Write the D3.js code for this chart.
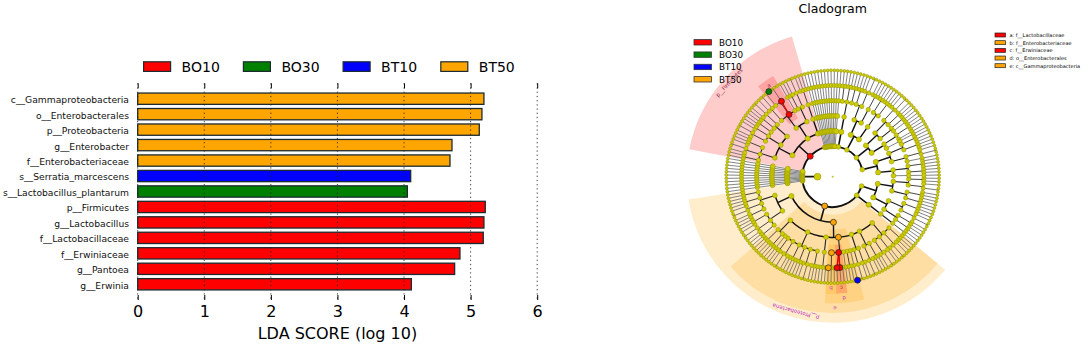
<!DOCTYPE html>
<html>
<head>
<meta charset="utf-8">
<script src="https://cdn.jsdelivr.net/npm/d3@7"></script>
<style>
  body { margin: 0; background: #fff; }
  svg { display: block; font-family: "DejaVu Sans", sans-serif; }
</style>
</head>
<body>
<svg width="1084" height="346"></svg>
<script>
// bar chart data
const groups = ["BO10", "BO30", "BT10", "BT50"];
const groupColors = ["#ff0000", "#008000", "#0000ff", "#ffa500"];
const taxa = [
  "c__Gammaproteobacteria", "o__Enterobacterales", "p__Proteobacteria", "g__Enterobacter",
  "f__Enterobacteriaceae", "s__Serratia_marcescens", "s__Lactobacillus_plantarum",
  "p__Firmicutes", "g__Lactobacillus", "f__Lactobacillaceae", "f__Erwiniaceae",
  "g__Pantoea", "g__Erwinia"
];
const taxaGroups = ["BT50", "BT50", "BT50", "BT50", "BT50", "BT10", "BO30", "BO10", "BO10", "BO10", "BO10", "BO10", "BO10"];
const ldaScores = [5.2, 5.17, 5.13, 4.72, 4.69, 4.1, 4.05, 5.22, 5.2, 5.19, 4.84, 4.76, 4.11];
const scoreTicks = [0, 1, 2, 3, 4, 5, 6];

// cladogram tree: phylum > class > order > family > genus, number = species in the genus
const phyla = [
  [[[[1, 1], [1, 2]], [[1, 1, 1], [1, 1]]], [[[1, 1, 1], [1, 2]], [[1, 1], [1, 1]]]],
  [[[[1, 1]]]],
  [ // Proteobacteria
    [
      [[1, 1, 1], [1, 2], [1, 1], [2, 1]],
      [[1, 1], [1, 2]],
      [[1, 1], [2]],
      [[1], [1, 1], [1], [1, 1, 1], [1, 1, 1]], // Enterobacterales
      [[1, 1, 1]],
      [[1, 1, 1], [2, 1], [1, 1], [1, 1, 1], [1, 2], [1, 1], [1]],
      [[1, 1], [1, 1, 1]]
    ],
    [[[1, 1], [1, 2], [1, 1, 1]], [[1, 1], [2, 1], [1, 1], [1, 1, 1]]]
  ],
  [[[[1]]]], [[[[1]]]], [[[[1]]]], [[[[1]]]], [[[[1]]]], [[[[1]]]],
  [[[[1]]]], [[[[1]]]], [[[[1]]]], [[[[1]]]], [[[[1]]]],
  [ // Firmicutes
    [[[1, 1], [1, 2], [1, 1, 1]], [[1, 2], [1, 1], [1, 1]], [[1, 1], [2]]],
    [[[1, 2], [1, 4], [1]], [[1, 1], [2]]],
    [[[1, 1, 1]]]
  ],
  [[[[1]]]], [[[[1]]]], [[[[1]]]], [[[[1]]]], [[[[1]]]], [[[[1]]]],
  [[[[1]]]], [[[[1]]]], [[[[1]]]], [[[[1]]]], [[[[1]]]], [[[[1]]]],
  [[[[1, 1], [1, 1], [1, 1]]]],
  [[[[1, 1], [1, 2]], [[1, 1, 1]]], [[[1, 1], [1, 1, 1]]]],
  [[[[1, 2], [1, 1]], [[1, 1], [1]]], [[[1, 1, 1], [1]], [[1]]]],
  [[[[1, 1], [1, 1, 1]], [[1, 2], [1]]], [[[1, 1, 1], [1, 1]], [[1]]]]
];

// clades coloured in the cladogram, found through their index path in phyla
const cladeNames = [
  "p__Proteobacteria", "c__Gammaproteobacteria", "o__Enterobacterales", "f__Enterobacteriaceae",
  "g__Enterobacter", "f__Erwiniaceae", "g__Pantoea", "g__Erwinia", "s__Serratia_marcescens",
  "p__Firmicutes", "f__Lactobacillaceae", "g__Lactobacillus", "s__Lactobacillus_plantarum"
];
const cladePaths = [
  [2], [2, 0], [2, 0, 3], [2, 0, 3, 4],
  [2, 0, 3, 4, 2], [2, 0, 3, 3], [2, 0, 3, 3, 1], [2, 0, 3, 3, 2], [2, 0, 3, 0, 0, 0],
  [14], [14, 1, 0, 1], [14, 1, 0, 1, 1], [14, 1, 0, 1, 1, 0]
];
const cladeGroups = ["BT50", "BT50", "BT50", "BT50", "BT50", "BO10", "BO10", "BO10", "BT10", "BO10", "BO10", "BO10", "BO30"];

// sectors with their label on the cladogram
const sectorClades = ["p__Proteobacteria", "c__Gammaproteobacteria", "o__Enterobacterales", "f__Enterobacteriaceae", "f__Erwiniaceae", "p__Firmicutes", "f__Lactobacillaceae"];
const sectorLabels = ["p__Proteobacteria", "e", "d", "b", "c", "p__Firmicutes", "a"];

const keyLabels = ["a: f__Lactobacillaceae", "b: f__Enterobacteriaceae", "c: f__Erwiniaceae", "d: o__Enterobacterales", "e: c__Gammaproteobacteria"];
const keyGroups = ["BO10", "BT50", "BO10", "BT50", "BT50"];

const svg = d3.select("svg");
const color = d3.scaleOrdinal(groups, groupColors);

// ---- bar chart ----
const x = d3.scaleLinear().domain([0, 6]).range([137.7, 537.2]);
const y = d3.scaleBand().domain(taxa).range([90.97, 292]).paddingInner(0.27).paddingOuter(0.135);

const bars = svg.append("g");
bars.selectAll("rect")
  .data(taxa)
  .enter()
  .append("rect")
  .attr("x", x(0))
  .attr("y", (d) => y(d))
  .attr("width", (d, i) => x(ldaScores[i]) - x(0))
  .attr("height", y.bandwidth())
  .attr("fill", (d, i) => color(taxaGroups[i]))
  .attr("stroke", "#1c2b30")
  .attr("stroke-width", 1.3);

// dotted grid over the bars
svg.append("g")
  .selectAll("line")
  .data(scoreTicks)
  .enter()
  .append("line")
  .attr("x1", (d) => x(d))
  .attr("x2", (d) => x(d))
  .attr("y1", 83.3)
  .attr("y2", 300)
  .attr("stroke", "#222")
  .attr("stroke-width", 0.9)
  .attr("stroke-dasharray", "1.2,3");

const xAxis = svg.append("g")
  .attr("transform", "translate(0,300)")
  .call(d3.axisBottom(x).tickValues(scoreTicks).tickFormat(d3.format("d")).tickSizeInner(-5).tickSizeOuter(0).tickPadding(6));
xAxis.select(".domain").remove();
xAxis.selectAll("text").attr("font-size", 16).attr("font-family", "DejaVu Sans").attr("fill", "#000");

const xAxisTop = svg.append("g")
  .attr("transform", "translate(0,83.3)")
  .call(d3.axisTop(x).tickValues(scoreTicks).tickFormat("").tickSizeInner(-5).tickSizeOuter(0));
xAxisTop.select(".domain").remove();

const yAxis = svg.append("g")
  .attr("transform", "translate(129,1.5)")
  .call(d3.axisLeft(y).tickSize(0).tickPadding(0));
yAxis.select(".domain").remove();
yAxis.selectAll("text").attr("font-size", 9.2).attr("font-family", "DejaVu Sans").attr("fill", "#111");

svg.append("text")
  .attr("x", x(3))
  .attr("y", 339)
  .attr("text-anchor", "middle")
  .attr("font-size", 16)
  .text("LDA SCORE (log 10)");

// top legend
const legendX = d3.scaleOrdinal(groups, [143.6, 243.4, 343.1, 440.8]);
const topLegend = svg.append("g").selectAll("g").data(groups).enter().append("g")
  .attr("transform", (d) => `translate(${legendX(d)},61.8)`);
topLegend.append("rect")
  .attr("width", 27).attr("height", 9.6)
  .attr("fill", (d) => color(d))
  .attr("stroke", "#1c2b30").attr("stroke-width", 1.2);
topLegend.append("text")
  .attr("x", 38).attr("y", 9.8)
  .attr("font-size", 14)
  .text((d) => d);

// ---- cladogram ----
const root = d3.hierarchy({ kids: [{ kids: phyla }] }, (d) => {
  if (Array.isArray(d)) return d;
  if (typeof d === "number") return d3.range(d).map(() => null);
  return d && d.kids;
});

// number leaves come out as species, so every leaf sits on the outer ring
const leaves = root.leaves();
const angle = d3.scaleLinear().domain([0, leaves.length]).range([90, 450]);
const radius = d3.scaleLinear().domain([0, 7]).range([0, 106.4]);
const step = angle(1) - angle(0);
leaves.forEach((d, i) => { d.a = angle(i + 0.5); d.first = d.last = d; });
root.eachAfter((d) => {
  if (!d.children) return;
  d.first = d.children[0].first;
  d.last = d.children[d.children.length - 1].last;
  d.a = (d.first.a + d.last.a) / 2;
});

const phylumNodes = root.children[0].children;
function nodeAt(path) {
  return path.reduce((n, i) => n.children[i], { children: phylumNodes });
}
const cladeByName = new Map();
cladeNames.forEach((name, i) => {
  const n = nodeAt(cladePaths[i]);
  n.group = cladeGroups[i];
  cladeByName.set(name, n);
});

const clado = svg.append("g").attr("transform", "translate(832.7,176.7)");
const polar = (r, a) => [r * Math.sin(a * Math.PI / 180), -r * Math.cos(a * Math.PI / 180)];

// sectors, widest first so the nested ones pile up
const sectorOuter = d3.scaleLinear().domain([2, 5]).range([146, 117]);
const sectorInner = d3.scaleOrdinal([2, 3, 4, 5], [30, 38, 53, 68]);
const sectorArc = d3.arc();
const rad = (a) => a * Math.PI / 180;
clado.append("g").selectAll("path")
  .data(sectorClades)
  .enter()
  .append("path")
  .attr("d", (name) => {
    const n = cladeByName.get(name);
    return sectorArc({
      innerRadius: sectorInner(n.depth),
      outerRadius: sectorOuter(n.depth),
      startAngle: rad(n.first.a - step / 2),
      endAngle: rad(n.last.a + step / 2)
    });
  })
  .attr("fill", (name) => color(cladeByName.get(name).group))
  .attr("fill-opacity", 0.2);

// branches: radial stem out of the node, then an arc through its children
// lone lineages and the outer rings stay thin and grey like the original
const branchWidth = d3.scaleOrdinal([0, 1, 2, 3, 4, 5, 6], [0.8, 1.8, 1.6, 1.4, 1.1, 0.9, 0.8]);
const branchGrey = d3.scaleOrdinal([0, 1, 2, 3, 4, 5, 6], ["#111", "#111", "#111", "#111", "#222", "#333", "#555"]);
const isLone = (d) => d.depth > 1 && d.first === d.last;
const branches = clado.append("g").attr("fill", "none");
branches.selectAll("path")
  .data(root.descendants().filter((d) => d.children && d.depth > 0))
  .enter()
  .append("path")
  .attr("d", (d) => {
    const p = d3.path();
    const from = polar(radius(d.depth), d.a);
    const to = polar(radius(d.depth + 1), d.a);
    p.moveTo(from[0], from[1]);
    p.lineTo(to[0], to[1]);
    const a0 = d.children[0].a;
    const a1 = d.children[d.children.length - 1].a;
    const start = polar(radius(d.depth + 1), a0);
    p.moveTo(start[0], start[1]);
    p.arc(0, 0, radius(d.depth + 1), rad(a0 - 90), rad(a1 - 90), false);
    return p.toString();
  })
  .attr("stroke", (d) => (isLone(d) ? "#666" : branchGrey(d.depth)))
  .attr("stroke-width", (d) => (isLone(d) ? 0.8 : branchWidth(d.depth)));

// red link where a red family feeds a red genus
branches.append("g").selectAll("path")
  .data(root.descendants().filter((d) => d.group === "BO10" && d.parent && d.parent.group === "BO10" && d.depth === 6))
  .enter()
  .append("path")
  .attr("d", (d) => {
    const from = polar(radius(d.depth - 1), d.parent.a);
    const to = polar(radius(d.depth), d.a);
    return d3.line()([from, to]);
  })
  .attr("stroke", "#dd0000")
  .attr("stroke-width", 1.4);

// nodes
const nodeSize = d3.scaleOrdinal([1, 2, 3, 4, 5, 6, 7], [3.4, 2.4, 2.6, 2.4, 2.2, 2.1, 1.5]);
const nodes = root.descendants().filter((d) => d.depth > 0).sort((a, b) => (a.group ? 1 : 0) - (b.group ? 1 : 0));
clado.append("g").selectAll("circle")
  .data(nodes)
  .enter()
  .append("circle")
  .attr("cx", (d) => polar(radius(d.depth), d.a)[0])
  .attr("cy", (d) => polar(radius(d.depth), d.a)[1])
  .attr("r", (d) => (d.group ? 3 : nodeSize(d.depth)))
  .attr("fill", (d) => (d.group ? color(d.group) : "#cccc00"))
  .attr("stroke", (d) => (d.group ? "#222" : "#8f8f00"))
  .attr("stroke-width", (d) => (d.group ? 0.7 : 0.5));

// the little dot in the middle
clado.append("circle").attr("r", 0.8).attr("fill", "#cccc00").attr("stroke", "#8f8f00").attr("stroke-width", 0.2);

// sector labels follow the ring, upside down at the bottom as in the original
const labelRadius = d3.scaleOrdinal([2, 3, 4, 5], [140, 131.5, 122, 111.5]);
clado.append("g").selectAll("text")
  .data(sectorClades)
  .enter()
  .append("text")
  .attr("transform", (name) => {
    const n = cladeByName.get(name);
    const pos = polar(labelRadius(n.depth), n.a);
    return `translate(${pos[0]},${pos[1]}) rotate(${n.a})`;
  })
  .attr("text-anchor", "middle")
  .attr("dominant-baseline", "central")
  .attr("font-size", 5.4)
  .attr("fill", (name) => (cladeByName.get(name).group === "BO10" ? "#8f1f45" : "#c22fc0"))
  .text((name) => sectorLabels[sectorClades.indexOf(name)]);

svg.append("text")
  .attr("x", 832.7)
  .attr("y", 13)
  .attr("text-anchor", "middle")
  .attr("font-size", 12.5)
  .text("Cladogram");

// group legend over the cladogram
const cladoLegendY = d3.scalePoint().domain(groups).range([42.3, 79.3]);
const cladoLegend = svg.append("g").selectAll("g").data(groups).enter().append("g")
  .attr("transform", (d) => `translate(694,${cladoLegendY(d)})`);
cladoLegend.append("rect")
  .attr("y", -2.7).attr("width", 17.5).attr("height", 5.4)
  .attr("fill", (d) => color(d))
  .attr("stroke", "#333").attr("stroke-width", 0.8);
cladoLegend.append("text")
  .attr("x", 25).attr("y", 3.2)
  .attr("font-size", 8.8)
  .text((d) => d);

// key for the lettered sectors
const keyY = d3.scalePoint().domain(keyLabels).range([35, 65.7]);
const key = svg.append("g").selectAll("g").data(keyLabels).enter().append("g")
  .attr("transform", (d) => `translate(995,${keyY(d)})`);
key.append("rect")
  .attr("y", -2).attr("width", 10.5).attr("height", 4)
  .attr("fill", (d, i) => color(keyGroups[i]))
  .attr("stroke", "#222").attr("stroke-width", 0.7);
key.append("text")
  .attr("x", 14.5).attr("y", 2)
  .attr("font-size", 5)
  .text((d) => d);
</script>
</body>
</html>
